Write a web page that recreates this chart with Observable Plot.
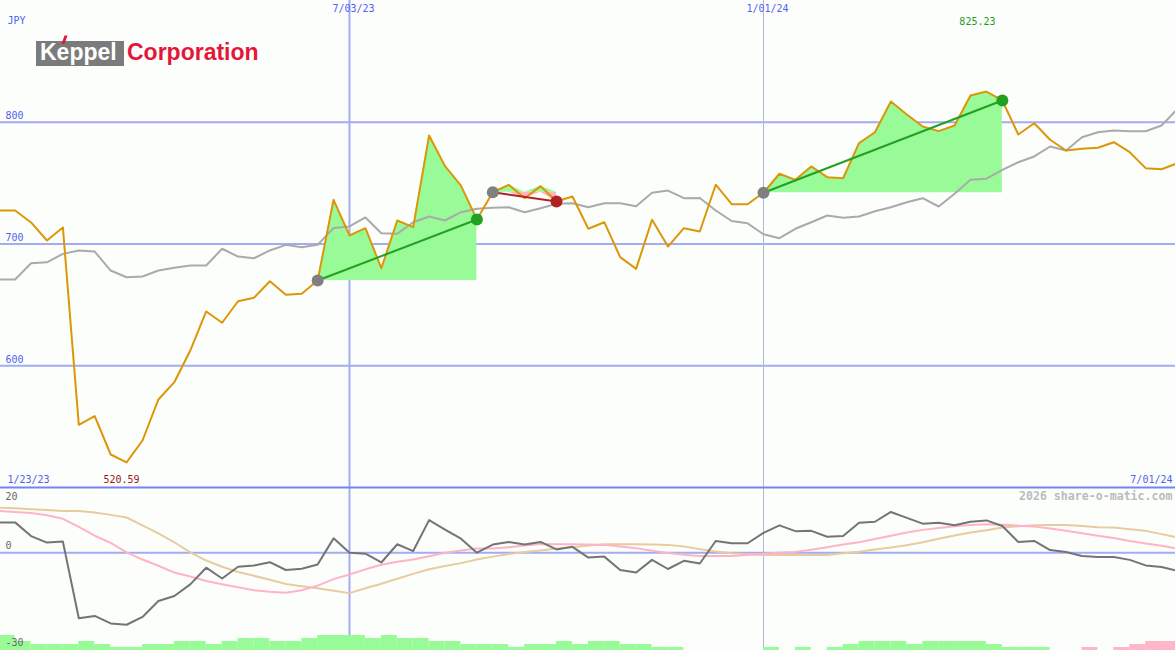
<!DOCTYPE html>
<html><head><meta charset="utf-8">
<script src="https://cdn.jsdelivr.net/npm/d3@7"></script>
<script src="https://cdn.jsdelivr.net/npm/@observablehq/plot@0.6"></script>
<style>
html,body{margin:0;padding:0;background:#fcfefc;}
#wrap{position:relative;width:1175px;height:650px;overflow:hidden;background:#fcfefc;}
#wrap svg{display:block;}
#logo{position:absolute;left:0;top:0;}
</style></head><body>
<div id="wrap">
<svg id="logo" width="300" height="80" xmlns="http://www.w3.org/2000/svg">
  <rect x="36" y="41" width="88" height="25" fill="#7b7b7b"/>
  <text x="40" y="60" font-family="Liberation Sans, Arial, sans-serif" font-weight="bold" font-size="23" fill="#ffffff">Keppel</text>
  <polygon points="61.5,44 64.5,44 67.5,35.5 64.5,35.5" fill="#e4173a"/>
  <text x="127" y="60" font-family="Liberation Sans, Arial, sans-serif" font-weight="bold" font-size="23" fill="#e4173a">Corporation</text>
</svg>
</div>
<script>
// ---- data ----
const dates = ["2023-01-30","2023-02-06","2023-02-13","2023-02-20","2023-02-27","2023-03-06","2023-03-13","2023-03-20","2023-03-27","2023-04-03","2023-04-10","2023-04-17","2023-04-24","2023-05-01","2023-05-08","2023-05-15","2023-05-22","2023-05-29","2023-06-05","2023-06-12","2023-06-19","2023-06-26","2023-07-03","2023-07-10","2023-07-17","2023-07-24","2023-07-31","2023-08-07","2023-08-14","2023-08-21","2023-08-28","2023-09-04","2023-09-11","2023-09-18","2023-09-25","2023-10-02","2023-10-09","2023-10-16","2023-10-23","2023-10-30","2023-11-06","2023-11-13","2023-11-20","2023-11-27","2023-12-04","2023-12-11","2023-12-18","2023-12-25","2024-01-01","2024-01-08","2024-01-15","2024-01-22","2024-01-29","2024-02-05","2024-02-12","2024-02-19","2024-02-26","2024-03-04","2024-03-11","2024-03-18","2024-03-25","2024-04-01","2024-04-08","2024-04-15","2024-04-22","2024-04-29","2024-05-06","2024-05-13","2024-05-20","2024-05-27","2024-06-03","2024-06-10","2024-06-17","2024-06-24","2024-07-01"];
const price = [727.5,727.5,717.7,702.9,713.6,551.5,558.6,527.1,520.59,538.6,572.3,586.5,612.5,644.6,635.3,653.0,655.8,669.4,658.3,659.1,670.0,736.3,707.0,713.0,680.1,719.3,713.8,789.1,763.9,748.0,720.1,742.5,748.6,737.6,747.5,734.9,739.0,712.5,717.9,689.2,679.6,719.9,697.9,713.0,710.3,748.7,732.7,732.7,742.1,757.7,752.7,763.7,754.9,754.0,782.8,791.8,817.0,806.4,796.5,792.7,797.3,822.0,825.23,817.9,789.9,799.2,785.6,776.8,778.2,779.0,783.6,775.4,762.3,761.4,766.4];
const avg = [670.8,670.8,684.2,685.0,691.9,694.7,693.8,678.2,672.7,673.3,678.2,680.5,682.3,682.3,696.1,689.7,688.3,694.7,699.3,697.4,699.3,713.1,714.4,721.8,708.9,708.4,717.9,722.6,719.3,726.1,728.9,729.7,730.2,726.1,729.4,733.0,733.5,730.2,733.5,733.5,731.0,742.1,743.9,737.6,737.8,727.5,718.9,717.0,708.0,704.8,712.5,717.9,723.4,721.5,722.6,726.9,730.2,734.3,737.6,730.8,741.2,752.7,753.6,760.9,767.2,771.9,780.1,776.8,787.7,791.8,793.2,792.6,792.6,797.3,811.0];
const osc = [9.3,9.3,5.1,3.1,3.4,-20.1,-19.4,-21.7,-22.1,-19.7,-14.8,-13.3,-9.7,-4.6,-7.9,-4.3,-3.9,-2.9,-5.3,-4.9,-3.6,4.4,0,-0.3,-3.0,2.6,0.5,10.0,7.1,4.3,0,2.5,3.3,2.5,3.3,1.0,1.8,-1.5,-1.2,-5.3,-6.1,-2.2,-5.0,-2.5,-3.3,3.6,2.9,2.9,6.1,8.4,6.6,6.7,4.9,5.1,9.2,9.5,12.5,10.7,8.9,9.2,8.4,9.5,9.9,8.2,3.3,3.6,0.8,0.2,-1.0,-1.3,-1.3,-2.2,-3.9,-4.4,-5.6];
const pinkAvg = [12.8,12.5,12.2,11.5,10.4,7.9,5.2,3.0,0.1,-2.1,-4.0,-6.1,-7.3,-8.7,-9.7,-10.6,-11.5,-12.0,-12.3,-11.5,-10.1,-8.1,-6.7,-5.1,-3.7,-2.8,-2.1,-1.1,0,0.7,1.3,1.3,1.7,2.2,2.7,2.6,2.6,2.5,2.4,1.9,1.4,0.6,-0.1,-0.6,-1.0,-1.0,-1.0,-0.7,-0.3,0,0.2,0.9,1.7,2.5,3.2,4.2,5.2,6.2,7.0,7.6,8.1,8.5,8.7,8.6,8.3,8.0,7.4,6.7,6.0,5.2,4.5,3.6,2.8,2.1,1.2];
const tanAvg = [13.8,13.6,13.3,13.1,12.8,12.8,12.3,11.6,10.8,8.4,5.9,3.2,0.1,-2.4,-4.3,-5.9,-7.1,-8.3,-9.6,-10.3,-10.9,-11.7,-12.4,-10.9,-9.5,-8.0,-6.5,-5.1,-4.1,-3.2,-2.1,-1.2,-0.4,0.2,0.7,1.3,1.7,2.2,2.6,2.6,2.6,2.5,2.4,1.9,1.1,0.4,-0.2,-0.5,-0.7,-0.7,-0.7,-0.7,-0.7,-0.2,0.3,1.0,1.6,2.3,3.2,4.3,5.3,6.2,6.9,7.7,8.1,8.4,8.5,8.5,8.2,7.8,7.7,7.2,6.7,5.7,4.7];
const hist = [5,3,2,2,2,3,2,1,1,2,2,3,3,2,3,4,4,3,3,4,5,5,5,4,5,4,4,3,3,2,2,2,1,2,2,3,2,3,3,2,2,1,1,0,0,0,0,0,1,0,1,0,1,2,3,3,3,2,3,3,3,3,2,1,1,1,0,0,-1,0,-1,-2,-3,-3];
const tradeStart = ["2023-06-19","2023-09-04","2024-01-01"];
const tradeEnd   = ["2023-08-28","2023-10-02","2024-04-15"];
const priceTicks = [600,700,800];
const oscTicks = [20,0,-30];
const markDates = ["2023-07-03","2024-01-01"];
const markLabels = ["7/03/23","1/01/24"];
const rangeLabels = ["1/23/23","7/01/24"];
const currency = "JPY";
const credit = "2026 share-o-matic.com";

// ---- build ----
const parse = d3.utcParse("%Y-%m-%d");
const D = dates.map(parse);
const rows = D.map((d,i)=>({date:d, price:price[i], avg:avg[i], osc:osc[i], pink:pinkAvg[i], tan:tanAvg[i]}));
const xDomain = [new Date("2023-01-30T13:48Z"), new Date("2024-06-30T02:52Z")];
const FONT = "DejaVu Sans Mono, monospace";
const BLUE = "#a3acf2", LABEL = "#5262ee", GREEN = "#22a022", RED = "#b22222";
const T = {fontSize:10, lineAnchor:"middle"};

const trades = tradeStart.map((s,i)=>{
  const a = dates.indexOf(s), b = dates.indexOf(tradeEnd[i]);
  const base = price[a];
  const seg = rows.slice(a,b+1).map(r=>({date:r.date, base, up:Math.max(r.price,base), dn:Math.min(r.price,base)}));
  return {seg, start:rows[a], end:rows[b], gain: price[b] >= base};
});
const segs = trades.flatMap((t,i)=>t.seg.map(s=>({...s, id:i})));
const iMax = price.indexOf(d3.max(price)), iMin = price.indexOf(d3.min(price));
const mD = markDates.map(parse);
const bars = hist.map((h,i)=>({x1:D[i], x2:D[i+1], h}));

const main = Plot.plot({
  width:1175, height:487, margin:0,
  x:{type:"utc", domain:xDomain, axis:null},
  y:{domain:[500,900], axis:null},
  style:{background:"transparent", overflow:"visible", fontFamily:FONT},
  marks:[
    Plot.ruleY(priceTicks, {stroke:BLUE, strokeWidth:2}),
    Plot.ruleX([mD[0]], {stroke:BLUE, strokeWidth:2}),
    Plot.ruleX([mD[1]], {stroke:"#b4b8d8", strokeWidth:1}),
    Plot.areaY(segs, {x:"date", y1:"base", y2:"up", z:"id", fill:"#98fb98", curve:"linear"}),
    Plot.areaY(segs, {x:"date", y1:"dn", y2:"base", z:"id", fill:"#ffb6c1", curve:"linear"}),
    Plot.line(rows, {x:"date", y:"avg", stroke:"#aaaaaa", strokeWidth:2}),
    Plot.line(rows, {x:"date", y:"price", stroke:"#dc9708", strokeWidth:2}),
    Plot.link(trades, {x1:t=>t.start.date, y1:t=>t.start.price, x2:t=>t.end.date, y2:t=>t.end.price, stroke:t=>t.gain?GREEN:RED, strokeWidth:2}),
    Plot.dot(trades, {x:t=>t.start.date, y:t=>t.start.price, r:6, fill:"#808080"}),
    Plot.dot(trades, {x:t=>t.end.date, y:t=>t.end.price, r:6, fill:t=>t.gain?GREEN:RED}),
    Plot.text(priceTicks, {...T, y:d=>d, text:d=>String(d), frameAnchor:"left", dx:5, dy:-6, textAnchor:"start", fill:LABEL}),
    Plot.text([currency], {...T, text:d=>d, frameAnchor:"top-left", dx:7, dy:20, textAnchor:"start", fill:LABEL}),
    Plot.text(mD, {...T, x:d=>d, text:(d,i)=>markLabels[i], frameAnchor:"top", dy:8, dx:4, fill:LABEL}),
    Plot.text([rows[iMax]], {...T, x:"date", text:d=>d.price.toFixed(2), frameAnchor:"top", dy:21, dx:-9, fill:"#1e9a1e"}),
    Plot.text([rows[iMin]], {...T, x:"date", text:d=>d.price.toFixed(2), frameAnchor:"bottom", dy:-8, dx:-5, fill:"#a01818"}),
    Plot.text([rangeLabels[0]], {...T, text:d=>d, frameAnchor:"bottom-left", dx:7, dy:-8, textAnchor:"start", fill:LABEL}),
    Plot.text([rangeLabels[1]], {...T, text:d=>d, frameAnchor:"bottom-right", dx:-3, dy:-8, textAnchor:"end", fill:LABEL})
  ]
});

const tickLabel = (v, dy) => Plot.text([v], {...T, y:d=>d, text:d=>String(d), frameAnchor:"left", dx:5, dy, textAnchor:"start", fill:"#666666"});

const lower = Plot.plot({
  width:1175, height:163, margin:0,
  x:{type:"utc", domain:xDomain, axis:null},
  y:{domain:[-30,20], axis:null},
  style:{background:"transparent", overflow:"visible", fontFamily:FONT},
  marks:[
    Plot.ruleX([mD[0]], {stroke:BLUE, strokeWidth:2}),
    Plot.ruleX([mD[1]], {stroke:"#b4b8d8", strokeWidth:1}),
    Plot.ruleY([0], {stroke:BLUE, strokeWidth:2}),
    Plot.rect(bars.filter(b=>b.h!==0), {x1:"x1", x2:"x2", y1:-30, y2:b=>-30 + Math.abs(b.h)*0.92, fill:b=>b.h>0?"#98fb98":"#ffb6c8"}),
    Plot.line(rows, {x:"date", y:"tan", stroke:"#e6cc9e", strokeWidth:2}),
    Plot.line(rows, {x:"date", y:"pink", stroke:"#ffb3c7", strokeWidth:2}),
    Plot.line(rows, {x:"date", y:"osc", stroke:"#747474", strokeWidth:2}),
    Plot.ruleY([20], {stroke:"#7584f0", strokeWidth:2}),
    tickLabel(oscTicks[0], 9),
    tickLabel(oscTicks[1], -6.5),
    tickLabel(oscTicks[2], -8),
    Plot.text([credit], {...T, text:d=>d, frameAnchor:"top-right", dx:-3, dy:9, textAnchor:"end", fill:"#bbbbbb", fontSize:11.6, fontWeight:"bold"})
  ]
});

const wrap = document.getElementById("wrap");
const logo = document.getElementById("logo");
wrap.insertBefore(main, logo);
wrap.insertBefore(lower, logo);
</script>
</body></html>
